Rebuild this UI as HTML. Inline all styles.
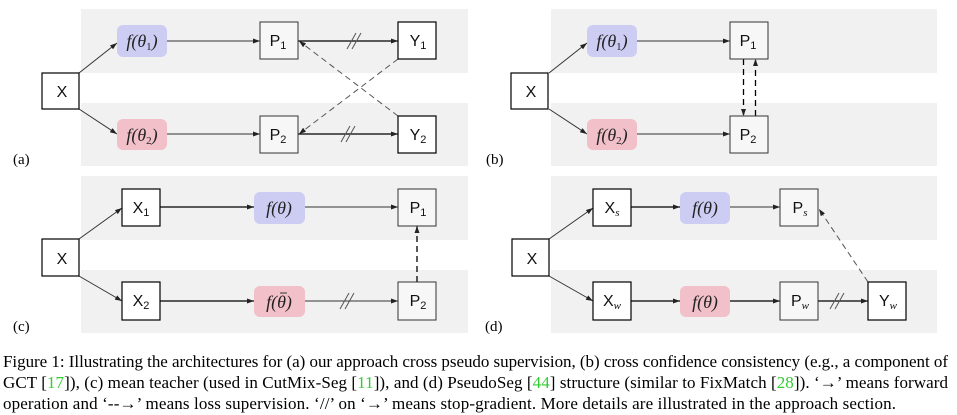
<!DOCTYPE html>
<html><head><meta charset="utf-8"><style>
html,body{margin:0;padding:0;background:#fff;width:957px;height:415px;overflow:hidden}
svg{display:block}
.s{font-family:"Liberation Sans",sans-serif;font-size:16px;fill:#111}
.m{font-family:"Liberation Serif",serif;font-style:italic;font-size:18px;fill:#222}
.cap{font-family:"Liberation Serif",serif;font-size:17px;fill:#000}
.lab{font-family:"Liberation Serif",serif;font-size:15px;fill:#000}
</style></head><body>
<svg width="957" height="415" viewBox="0 0 957 415" xmlns="http://www.w3.org/2000/svg">
<defs>
<marker id="a" markerWidth="8" markerHeight="6" refX="7" refY="3" orient="auto" markerUnits="userSpaceOnUse"><path d="M0,0.5 L7,3 L0,5.5z" fill="#222"/></marker>
</defs>
<g fill="#f1f1f1">
<rect x="81" y="9" width="387" height="64"/><rect x="81" y="103" width="387" height="63"/>
<rect x="551" y="9" width="386" height="64"/><rect x="551" y="103" width="386" height="63"/>
<rect x="81" y="176" width="387" height="64"/><rect x="81" y="270" width="387" height="63"/>
<rect x="551" y="176" width="386" height="64"/><rect x="551" y="270" width="386" height="63"/>
</g>
<g stroke="#333" stroke-width="1" fill="none" marker-end="url(#a)">
<line x1="79" y1="73" x2="117" y2="43"/><line x1="79" y1="109" x2="117" y2="134"/>
<line x1="167" y1="41" x2="260" y2="41"/><line x1="167" y1="134" x2="260" y2="134"/>
<line x1="298" y1="41" x2="398" y2="41" stroke="#000" stroke-width="1.3"/>
<line x1="298" y1="134" x2="398" y2="134" stroke="#000" stroke-width="1.3"/>
<line x1="398" y1="59" x2="299" y2="134" stroke-dasharray="6,4" stroke="#555"/>
<line x1="398" y1="116" x2="299" y2="41" stroke-dasharray="6,4" stroke="#555"/>
<line x1="549" y1="73" x2="587" y2="43"/><line x1="549" y1="109" x2="587" y2="134"/>
<line x1="637" y1="41" x2="730" y2="41"/><line x1="637" y1="134" x2="730" y2="134"/>
<line x1="743.5" y1="59" x2="743.5" y2="116" stroke-dasharray="6,4" stroke="#000" stroke-width="1.3"/>
<line x1="755.5" y1="116" x2="755.5" y2="59" stroke-dasharray="6,4" stroke="#000" stroke-width="1.3"/>
<line x1="79" y1="239" x2="122" y2="208"/><line x1="79" y1="276" x2="122" y2="301"/>
<line x1="160" y1="207" x2="254" y2="207" stroke="#000" stroke-width="1.3"/><line x1="160" y1="301" x2="254" y2="301" stroke="#000" stroke-width="1.3"/>
<line x1="305" y1="207" x2="398" y2="207"/><line x1="305" y1="301" x2="398" y2="301"/>
<line x1="417" y1="282" x2="417" y2="226" stroke-dasharray="6,4" stroke="#000" stroke-width="1.3"/>
<line x1="549" y1="239" x2="593" y2="208"/><line x1="549" y1="276" x2="593" y2="301"/>
<line x1="631" y1="207" x2="680" y2="207" stroke="#000" stroke-width="1.3"/><line x1="631" y1="301" x2="680" y2="301" stroke="#000" stroke-width="1.3"/>
<line x1="730" y1="207" x2="780" y2="207"/><line x1="730" y1="301" x2="780" y2="301" stroke="#000" stroke-width="1.3"/>
<line x1="818" y1="301" x2="868" y2="301" stroke="#000" stroke-width="1.3"/>
<line x1="868" y1="282" x2="819" y2="209" stroke-dasharray="6,4" stroke="#555"/>
</g>
<g stroke="#555" stroke-width="1">
<path d="M347,49 L356,33 M352,49 L361,33"/>
<path d="M341,142 L350,126 M346,142 L355,126"/>
<path d="M340,309 L349,293 M345,309 L354,293"/>
<path d="M830,309 L839,293 M835,309 L844,293"/>
</g>
<g fill="#fff" stroke="#000" stroke-width="1.2">
<rect x="42" y="73" width="37" height="36"/><rect x="398" y="22" width="38" height="37"/><rect x="398" y="116" width="38" height="37"/>
<rect x="511" y="73" width="37" height="36"/>
<rect x="42" y="239" width="37" height="37"/><rect x="122" y="189" width="38" height="37"/><rect x="122" y="282" width="38" height="38"/>
<rect x="512" y="239" width="37" height="37"/><rect x="593" y="189" width="38" height="37"/><rect x="593" y="282" width="38" height="38"/><rect x="868" y="282" width="38" height="38"/>
</g>
<g fill="#f7f7f7" stroke="#333" stroke-width="1">
<rect x="260" y="22" width="38" height="37"/><rect x="260" y="116" width="38" height="37"/>
<rect x="730" y="22" width="38" height="37"/><rect x="730" y="116" width="38" height="37"/>
<rect x="398" y="189" width="38" height="37"/><rect x="398" y="282" width="38" height="38"/>
<rect x="780" y="189" width="38" height="37"/><rect x="780" y="282" width="38" height="38"/>
</g>
<g stroke="none">
<rect x="117" y="25" width="50" height="32" rx="6" fill="#cdcdf3"/><rect x="117" y="119" width="50" height="31" rx="6" fill="#f2c0c8"/>
<rect x="587" y="25" width="50" height="32" rx="6" fill="#cdcdf3"/><rect x="587" y="119" width="50" height="31" rx="6" fill="#f2c0c8"/>
<rect x="254" y="192" width="51" height="32" rx="6" fill="#cdcdf3"/><rect x="254" y="286" width="51" height="31" rx="6" fill="#f2c0c8"/>
<rect x="680" y="192" width="50" height="32" rx="6" fill="#cdcdf3"/><rect x="680" y="286" width="50" height="31" rx="6" fill="#f2c0c8"/>
</g>
<g class="s" text-anchor="middle">
<text x="62" y="97">X</text><text x="531" y="97">X</text><text x="62" y="264">X</text><text x="532" y="264">X</text>
<text x="278" y="46">P<tspan font-size="11" dy="3">1</tspan></text>
<text x="278" y="140">P<tspan font-size="11" dy="3">2</tspan></text>
<text x="418" y="46">Y<tspan font-size="11" dy="3">1</tspan></text>
<text x="418" y="140">Y<tspan font-size="11" dy="3">2</tspan></text>
<text x="748" y="46">P<tspan font-size="11" dy="3">1</tspan></text>
<text x="748" y="140">P<tspan font-size="11" dy="3">2</tspan></text>
<text x="141" y="213">X<tspan font-size="11" dy="3">1</tspan></text>
<text x="141" y="306">X<tspan font-size="11" dy="3">2</tspan></text>
<text x="418" y="213">P<tspan font-size="11" dy="3">1</tspan></text>
<text x="418" y="306">P<tspan font-size="11" dy="3">2</tspan></text>
<text x="612" y="213">X<tspan font-size="11" font-style="italic" font-family="Liberation Serif" dy="3">s</tspan></text>
<text x="612" y="306">X<tspan font-size="11" font-style="italic" font-family="Liberation Serif" dy="3">w</tspan></text>
<text x="800" y="213">P<tspan font-size="11" font-style="italic" font-family="Liberation Serif" dy="3">s</tspan></text>
<text x="800" y="306">P<tspan font-size="11" font-style="italic" font-family="Liberation Serif" dy="3">w</tspan></text>
<text x="888" y="306">Y<tspan font-size="11" font-style="italic" font-family="Liberation Serif" dy="3">w</tspan></text>
</g>
<g class="m" text-anchor="middle">
<text x="142" y="47">f(θ<tspan font-size="11" font-style="normal" dy="3">1</tspan><tspan dy="-3">)</tspan></text>
<text x="142" y="141">f(θ<tspan font-size="11" font-style="normal" dy="3">2</tspan><tspan dy="-3">)</tspan></text>
<text x="612" y="47">f(θ<tspan font-size="11" font-style="normal" dy="3">1</tspan><tspan dy="-3">)</tspan></text>
<text x="612" y="141">f(θ<tspan font-size="11" font-style="normal" dy="3">2</tspan><tspan dy="-3">)</tspan></text>
<text x="279" y="214">f(θ)</text><text x="279" y="308">f(θ)</text>
<text x="705" y="214">f(θ)</text><text x="705" y="308">f(θ)</text>
</g>
<line x1="280" y1="293" x2="287" y2="293" stroke="#333" stroke-width="1"/>
<g class="lab">
<text x="13" y="164">(a)</text><text x="486" y="164">(b)</text><text x="13" y="331">(c)</text><text x="485" y="331">(d)</text>
</g>
<g class="cap">
<text x="3" y="367" textLength="945" lengthAdjust="spacing">Figure 1: Illustrating the architectures for (a) our approach cross pseudo supervision, (b) cross confidence consistency (e.g., a component of</text>
<text x="3" y="388" textLength="945" lengthAdjust="spacing">GCT [<tspan fill="#3c3">17</tspan>]), (c) mean teacher (used in CutMix-Seg [<tspan fill="#3c3">11</tspan>]), and (d) PseudoSeg [<tspan fill="#3c3">44</tspan>] structure (similar to FixMatch [<tspan fill="#3c3">28</tspan>]). ‘→’ means forward</text>
<text x="3" y="409" textLength="893" lengthAdjust="spacing">operation and ‘--→’ means loss supervision. ‘//’ on ‘→’ means stop-gradient. More details are illustrated in the approach section.</text>
</g>
</svg>
</body></html>
